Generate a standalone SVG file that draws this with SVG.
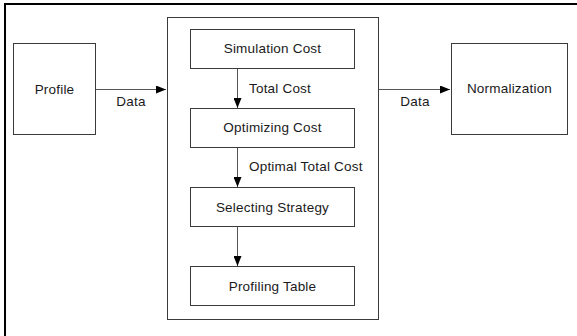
<svg xmlns="http://www.w3.org/2000/svg" width="577" height="336" viewBox="0 0 577 336">
  <style>
    .box { fill: #ffffff; stroke: #3a3a3a; stroke-width: 1; }
    .frame { fill: none; stroke: #000000; stroke-width: 2; }
    .link { fill: none; stroke: #555555; stroke-width: 1; }
    text { font-family: "Liberation Sans", Arial, sans-serif; font-size: 13.5px; letter-spacing: 0.2px; fill: #1a1a1a; }
    .c { text-anchor: middle; }
  </style>
  <defs>
    <marker id="head" viewBox="0 0 10 8" refX="10" refY="4" markerWidth="10" markerHeight="8" markerUnits="userSpaceOnUse" orient="auto">
      <path d="M0,0 L10,4 L0,8 Z" fill="#000000"/>
    </marker>
  </defs>

  <rect width="577" height="336" fill="#ffffff"/>
  <!-- outer frame (top and left edges) -->
  <path class="frame" d="M5,336 V4 H577"/>

  <g id="profile">
    <rect class="box" x="13.5" y="43.5" width="82" height="91"/>
    <text class="c" x="54.5" y="94">Profile</text>
  </g>

  <g id="engine">
    <rect class="box" x="167.5" y="17.5" width="211" height="302"/>
  </g>

  <g id="simulation-cost">
    <rect class="box" x="190.5" y="29.5" width="164" height="39"/>
    <text class="c" x="272.5" y="53">Simulation Cost</text>
  </g>

  <g id="optimizing-cost">
    <rect class="box" x="190.5" y="108.5" width="164" height="39"/>
    <text class="c" x="272.5" y="132">Optimizing Cost</text>
  </g>

  <g id="selecting-strategy">
    <rect class="box" x="190.5" y="187.5" width="164" height="39"/>
    <text class="c" x="272.5" y="211.5">Selecting Strategy</text>
  </g>

  <g id="profiling-table">
    <rect class="box" x="190.5" y="266.5" width="164" height="39"/>
    <text class="c" x="272.5" y="290.5">Profiling Table</text>
  </g>

  <g id="normalization">
    <rect class="box" x="451.5" y="43.5" width="116" height="91"/>
    <text class="c" x="509.5" y="93">Normalization</text>
  </g>

  <g id="connectors">
    <line class="link" x1="96" y1="89.5" x2="166" y2="89.5" marker-end="url(#head)"/>
    <line class="link" x1="379" y1="89.5" x2="450" y2="89.5" marker-end="url(#head)"/>
    <line class="link" x1="237.5" y1="69" x2="237.5" y2="108" marker-end="url(#head)"/>
    <line class="link" x1="237.5" y1="148" x2="237.5" y2="187" marker-end="url(#head)"/>
    <line class="link" x1="237.5" y1="227" x2="237.5" y2="266" marker-end="url(#head)"/>
    <text class="c" x="131" y="105.5">Data</text>
    <text class="c" x="415" y="105.5">Data</text>
    <text x="249" y="92.5">Total Cost</text>
    <text x="249" y="171">Optimal Total Cost</text>
  </g>
</svg>
